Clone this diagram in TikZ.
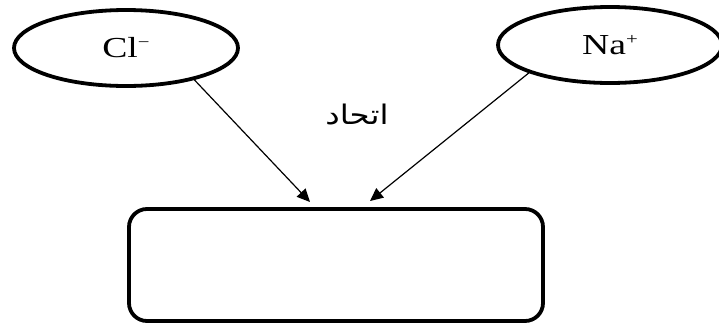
\documentclass[tikz,border=0pt]{standalone}
\usepackage{fontspec}
\usetikzlibrary{shapes.geometric,arrows.meta}
\setmainfont{Liberation Serif}
\newfontfamily\ionfont[FakeStretch=1.3]{Liberation Serif}
\newfontfamily\arabicfont[Script=Arabic,FakeStretch=1.2]{DejaVu Sans}
\TeXXeTstate=1
\begin{document}
\begin{tikzpicture}[x=1pt,y=-1pt,
  ion/.style={ellipse,draw,line width=3.8pt,inner sep=0pt,minimum width=224pt,minimum height=76pt,
    font=\ionfont\fontsize{29}{29}\selectfont},
  boxnode/.style={draw,line width=3.8pt,rounded corners=18pt,minimum width=414pt,minimum height=112pt,inner sep=0pt},
  conn/.style={line width=1.2pt,-{Triangle[length=13pt,width=12pt]}}]
\useasboundingbox (0,0) rectangle (719,327);
\node[ion] (cl) at (126,48) {Cl\raisebox{0.8ex}{\fontsize{16}{16}\selectfont −}};
\node[ion] (na) at (610,45) {Na\raisebox{0.75ex}{\fontsize{16}{16}\selectfont +}};
\node[boxnode] (box) at (336,265) {};
\node (lbl) at (357,114) {\arabicfont\fontsize{27}{27}\selectfont\beginR اتحاد\endR};
\coordinate (t1) at (310,202);
\coordinate (t2) at (370,201);
\draw[conn] (cl.-25) -- (t1);
\draw[conn] (na.-161) -- (t2);
\end{tikzpicture}
\end{document}
